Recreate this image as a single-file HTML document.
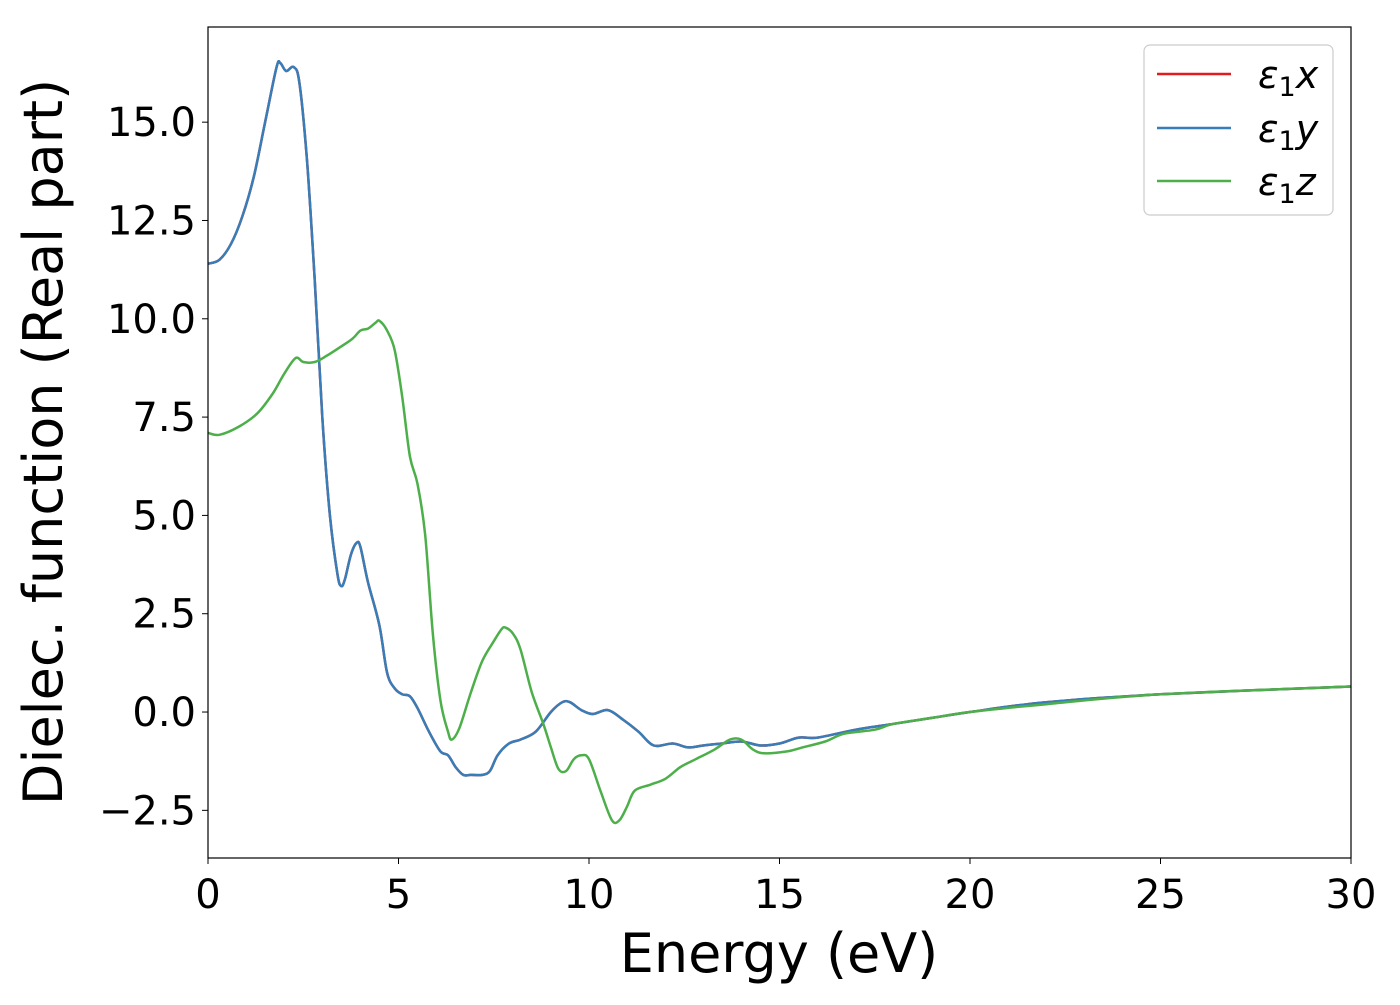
<!DOCTYPE html>
<html><head><meta charset="utf-8"><style>
html,body{margin:0;padding:0;background:#fff;}
svg text{font-family:"DejaVu Sans","Liberation Sans",sans-serif;}
</style></head><body>
<svg id="chart" width="1400" height="1000" xmlns="http://www.w3.org/2000/svg">
<rect x="0" y="0" width="1400" height="1000" fill="#fff"/>
<g id="plot"></g>
<rect x="208" y="27" width="1143" height="831" fill="none" stroke="#000" stroke-width="1.2"/>
<g id="ticks"></g>
<text x="779" y="972" font-size="54" text-anchor="middle">Energy (eV)</text>
<text transform="translate(62,442) rotate(-90)" font-size="54" text-anchor="middle">Dielec. function (Real part)</text>
<g>
<rect x="1144" y="45" width="189" height="170" rx="6" fill="#fff" stroke="#ccc" stroke-width="1.2"/>
<line x1="1157" y1="74" x2="1231" y2="74" stroke="#e41a1c" stroke-width="2.5"/>
<text x="1258" y="88" font-size="38"><tspan font-style="italic">ε</tspan><tspan font-size="27" dy="8">1</tspan><tspan font-style="italic" dy="-8">x</tspan></text>
<line x1="1157" y1="128" x2="1231" y2="128" stroke="#377eb8" stroke-width="2.5"/>
<text x="1258" y="142" font-size="38"><tspan font-style="italic">ε</tspan><tspan font-size="27" dy="8">1</tspan><tspan font-style="italic" dy="-8">y</tspan></text>
<line x1="1157" y1="181" x2="1231" y2="181" stroke="#4daf4a" stroke-width="2.5"/>
<text x="1258" y="195" font-size="38"><tspan font-style="italic">ε</tspan><tspan font-size="27" dy="8">1</tspan><tspan font-style="italic" dy="-8">z</tspan></text>
</g>
</svg>
<script>
const energyXY=[0,0.3,0.6,0.9,1.2,1.5,1.8,1.9,2.05,2.25,2.4,2.6,2.8,3.0,3.2,3.4,3.5,3.6,3.75,3.9,4.0,4.2,4.5,4.7,4.9,5.1,5.3,5.5,5.8,6.1,6.3,6.5,6.7,6.9,7.2,7.4,7.6,7.9,8.2,8.6,9.0,9.3,9.5,9.8,10.1,10.5,10.9,11.3,11.7,12.2,12.6,13.0,13.5,14.0,14.5,15.0,15.5,16.0,17,18,19,20,22,25,30];
const epsX=[11.4,11.5,11.9,12.6,13.6,15.0,16.4,16.5,16.3,16.4,16.0,14.0,11.0,7.5,5.0,3.5,3.2,3.4,4.0,4.3,4.2,3.3,2.2,1.0,0.6,0.45,0.4,0.1,-0.5,-1.0,-1.1,-1.4,-1.6,-1.6,-1.6,-1.5,-1.1,-0.8,-0.7,-0.5,0.0,0.25,0.25,0.05,-0.05,0.05,-0.2,-0.5,-0.85,-0.8,-0.9,-0.85,-0.8,-0.75,-0.85,-0.8,-0.65,-0.65,-0.45,-0.3,-0.15,0.0,0.25,0.45,0.65];
const epsY=[11.4,11.5,11.9,12.6,13.6,15.0,16.4,16.5,16.3,16.4,16.0,14.0,11.0,7.5,5.0,3.5,3.2,3.4,4.0,4.3,4.2,3.3,2.2,1.0,0.6,0.45,0.4,0.1,-0.5,-1.0,-1.1,-1.4,-1.6,-1.6,-1.6,-1.5,-1.1,-0.8,-0.7,-0.5,0.0,0.25,0.25,0.05,-0.05,0.05,-0.2,-0.5,-0.85,-0.8,-0.9,-0.85,-0.8,-0.75,-0.85,-0.8,-0.65,-0.65,-0.45,-0.3,-0.15,0.0,0.25,0.45,0.65];
const energyZ=[0,0.3,0.8,1.3,1.7,2.0,2.3,2.5,2.8,3.1,3.5,3.8,4.0,4.2,4.4,4.5,4.7,4.9,5.1,5.3,5.5,5.7,5.9,6.1,6.3,6.4,6.6,6.9,7.2,7.5,7.7,7.8,8.0,8.2,8.5,8.8,9.0,9.2,9.4,9.6,9.8,10.0,10.3,10.6,10.8,11.0,11.2,11.6,12.0,12.4,12.8,13.3,13.7,14.0,14.3,14.6,15.2,15.6,16.2,16.7,17.5,18,19,20,22,25,30];
const epsZ=[7.1,7.05,7.25,7.6,8.1,8.6,9.0,8.9,8.9,9.05,9.3,9.5,9.7,9.75,9.9,9.95,9.7,9.2,8.0,6.5,5.8,4.5,2.0,0.3,-0.5,-0.7,-0.4,0.5,1.3,1.8,2.1,2.15,2.0,1.6,0.5,-0.3,-0.9,-1.45,-1.5,-1.2,-1.1,-1.2,-2.0,-2.75,-2.75,-2.4,-2.0,-1.85,-1.7,-1.4,-1.2,-0.95,-0.7,-0.7,-0.95,-1.05,-1.0,-0.9,-0.75,-0.55,-0.45,-0.3,-0.15,0.0,0.2,0.45,0.65];
const xTicks=[0,5,10,15,20,25,30];
const yTicks=[-2.5,0,2.5,5,7.5,10,12.5,15];
const yTickLabels=["\u22122.5","0.0","2.5","5.0","7.5","10.0","12.5","15.0"];

const X0=208,X1=1351,Y0=27,Y1=858,xmin=0,xmax=30,ymin=-3.712,ymax=17.42;
const sx=v=>X0+(v-xmin)/(xmax-xmin)*(X1-X0);
const sy=v=>Y1-(v-ymin)/(ymax-ymin)*(Y1-Y0);
const NS="http://www.w3.org/2000/svg";
function pathD(xs,ys){
  const p=xs.map((x,i)=>[sx(x),sy(ys[i])]);
  let d="M"+p[0][0].toFixed(1)+","+p[0][1].toFixed(1);
  for(let i=0;i<p.length-1;i++){
    const p0=p[Math.max(0,i-1)],p1=p[i],p2=p[i+1],p3=p[Math.min(p.length-1,i+2)];
    const c1=[p1[0]+(p2[0]-p0[0])/6,p1[1]+(p2[1]-p0[1])/6];
    const c2=[p2[0]-(p3[0]-p1[0])/6,p2[1]-(p3[1]-p1[1])/6];
    d+=" C"+c1[0].toFixed(1)+","+c1[1].toFixed(1)+" "+c2[0].toFixed(1)+","+c2[1].toFixed(1)+" "+p2[0].toFixed(1)+","+p2[1].toFixed(1);
  }
  return d;
}
const plot=document.getElementById("plot");
function addLine(xs,ys,color,name){
  const el=document.createElementNS(NS,"path");
  el.setAttribute("d",pathD(xs,ys));
  el.setAttribute("fill","none");
  el.setAttribute("stroke",color);
  el.setAttribute("stroke-width","2.5");
  
  
  plot.appendChild(el);
}
addLine(energyXY,epsX,"#e41a1c","series-eps1-x");
addLine(energyXY,epsY,"#377eb8","series-eps1-y");
addLine(energyZ,epsZ,"#4daf4a","series-eps1-z");

const ticks=document.getElementById("ticks");
xTicks.forEach(v=>{
  const l=document.createElementNS(NS,"line");
  l.setAttribute("x1",sx(v));l.setAttribute("x2",sx(v));
  l.setAttribute("y1",Y1);l.setAttribute("y2",Y1+6);
  l.setAttribute("stroke","#000");
  
  
  ticks.appendChild(l);
  const t=document.createElementNS(NS,"text");
  t.setAttribute("x",sx(v));t.setAttribute("y",908);
  t.setAttribute("font-size","40");t.setAttribute("text-anchor","middle");
  t.textContent=String(v);
  
  
  ticks.appendChild(t);
});
yTicks.forEach((v,i)=>{
  const l=document.createElementNS(NS,"line");
  l.setAttribute("x1",X0-6);l.setAttribute("x2",X0);
  l.setAttribute("y1",sy(v));l.setAttribute("y2",sy(v));
  l.setAttribute("stroke","#000");
  
  
  ticks.appendChild(l);
  const t=document.createElementNS(NS,"text");
  t.setAttribute("x",X0-12);t.setAttribute("y",sy(v)+14);
  t.setAttribute("font-size","40");t.setAttribute("text-anchor","end");
  t.textContent=yTickLabels[i];
  
  
  ticks.appendChild(t);
});
</script>
</body></html>
